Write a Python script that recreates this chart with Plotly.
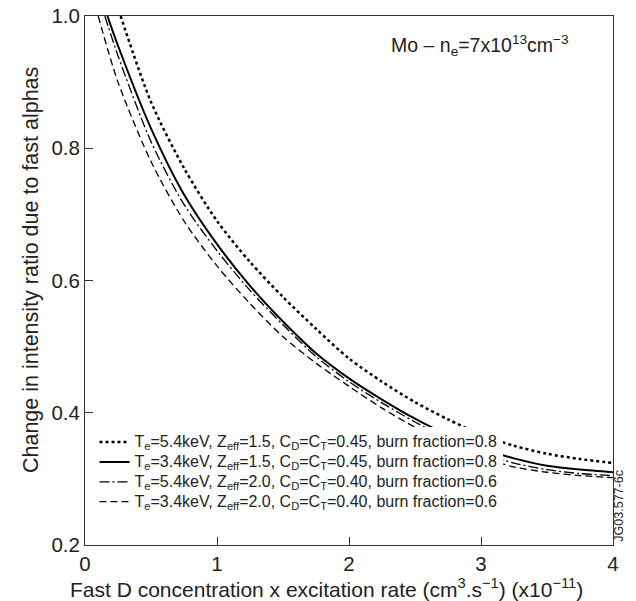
import plotly.graph_objects as go

# Data
x_dot = [0.27, 0.5, 0.75, 1.0, 1.25, 1.5, 1.75, 2.0, 2.25, 2.5, 2.75, 3.0, 3.25, 3.5, 3.75, 4.0]
y_dot = [1.0, 0.87, 0.77, 0.69, 0.628, 0.575, 0.527, 0.482, 0.447, 0.416, 0.39, 0.367, 0.35, 0.338, 0.33, 0.324]

x_sol = [0.17, 0.25, 0.5, 0.75, 1.0, 1.25, 1.5, 1.75, 2.0, 2.25, 2.5, 2.75, 3.0, 3.25, 3.5, 3.75, 4.0]
y_sol = [1.0, 0.955, 0.83, 0.73, 0.655, 0.592, 0.538, 0.49, 0.452, 0.42, 0.391, 0.366, 0.346, 0.331, 0.32, 0.314, 0.31]

x_dd = [0.15, 0.25, 0.5, 0.75, 1.0, 1.25, 1.5, 1.75, 2.0, 2.25, 2.5, 2.75, 3.0, 3.25, 3.5, 3.75, 4.0]
y_dd = [1.0, 0.94, 0.81, 0.715, 0.645, 0.585, 0.533, 0.485, 0.447, 0.415, 0.386, 0.36, 0.339, 0.324, 0.314, 0.308, 0.305]

x_da = [0.1, 0.25, 0.5, 0.75, 1.0, 1.25, 1.5, 1.75, 2.0, 2.25, 2.5, 2.75, 3.0, 3.25, 3.5, 3.75, 4.0]
y_da = [1.0, 0.9, 0.78, 0.69, 0.622, 0.565, 0.515, 0.475, 0.44, 0.407, 0.378, 0.353, 0.333, 0.318, 0.31, 0.305, 0.302]

names = [
    "T<sub>e</sub>=5.4keV, Z<sub>eff</sub>=1.5, C<sub>D</sub>=C<sub>T</sub>=0.45, burn fraction=0.8",
    "T<sub>e</sub>=3.4keV, Z<sub>eff</sub>=1.5, C<sub>D</sub>=C<sub>T</sub>=0.45, burn fraction=0.8",
    "T<sub>e</sub>=5.4keV, Z<sub>eff</sub>=2.0, C<sub>D</sub>=C<sub>T</sub>=0.40, burn fraction=0.6",
    "T<sub>e</sub>=3.4keV, Z<sub>eff</sub>=2.0, C<sub>D</sub>=C<sub>T</sub>=0.40, burn fraction=0.6",
]

x_ticks = [0, 1, 2, 3, 4]
y_ticks = [0.2, 0.4, 0.6, 0.8, 1.0]

x_title = "Fast D concentration x excitation rate (cm<sup>3</sup>.s<sup>\u22121</sup>) (x10<sup>\u221211</sup>)"
y_title = "Change in intensity ratio due to fast alphas"

FONT = "Liberation Sans, Arial, Helvetica, sans-serif"

fig = go.Figure()
series = [
    (x_dot, y_dot, dict(color="black", width=2.5, dash="dot")),
    (x_sol, y_sol, dict(color="black", width=2, dash="solid")),
    (x_dd, y_dd, dict(color="black", width=1.3, dash="10px,3px,2px,3px")),
    (x_da, y_da, dict(color="black", width=1.3, dash="7px,4px")),
]
for (xs, ys, ln), nm in zip(series, names):
    fig.add_trace(go.Scatter(x=xs, y=ys, mode="lines",
                             name='<span style="font-size:16px">' + nm + '</span>',
                             line=dict(shape="spline", smoothing=0.8, **ln)))

fig.update_layout(
    width=636, height=601,
    margin=dict(l=85, r=23, t=16, b=56, autoexpand=False),
    paper_bgcolor="white", plot_bgcolor="white",
    font=dict(family=FONT, color="#222", size=20),
    showlegend=True,
    legend=dict(x=0.018, y=0.223, xanchor="left", yanchor="top",
                bgcolor="white", font=dict(size=13, family=FONT),
                itemwidth=30, tracegroupgap=0),
    xaxis=dict(range=[0, 4], tickvals=x_ticks, ticktext=[str(v) for v in x_ticks],
               ticks="inside", ticklen=8, tickcolor="#333", showgrid=False, zeroline=False,
               showline=True, linecolor="#333", linewidth=1, mirror=True,
               tickfont=dict(size=20.5), automargin=False),
    yaxis=dict(range=[0.2, 1.0], tickvals=y_ticks, ticktext=["%.1f" % v for v in y_ticks],
               ticks="inside", ticklen=8, tickcolor="#333", showgrid=False, zeroline=False,
               showline=True, linecolor="#333", linewidth=1, mirror=True,
               tickfont=dict(size=20.5), automargin=False),
)

# axis titles
fig.add_annotation(xref="paper", yref="paper", x=0.458, y=-0.082, xanchor="center", yanchor="middle",
                   text=x_title, showarrow=False, font=dict(size=21, family=FONT))
fig.add_annotation(xref="paper", yref="paper", x=-0.102, y=0.52, xanchor="center", yanchor="middle",
                   text=y_title, textangle=-90, showarrow=False, font=dict(size=21.5, family=FONT))

fig.add_annotation(xref="paper", yref="paper", x=0.921, y=0.945, xanchor="right", yanchor="middle",
                   text="Mo \u2013 n<sub>e</sub>=7x10<sup>13</sup>cm<sup>\u22123</sup>",
                   showarrow=False, font=dict(size=19.5, family=FONT))
fig.add_annotation(xref="paper", yref="paper", x=1.011, y=0.074, xanchor="center", yanchor="middle",
                   text="JG03.577-6c", textangle=-90, showarrow=False,
                   font=dict(size=12.5, family=FONT))

fig.write_html("out.html", config={"displayModeBar": False},
               post_script="document.body.style.margin='0';document.body.style.padding='0';document.body.style.overflow='hidden';")
